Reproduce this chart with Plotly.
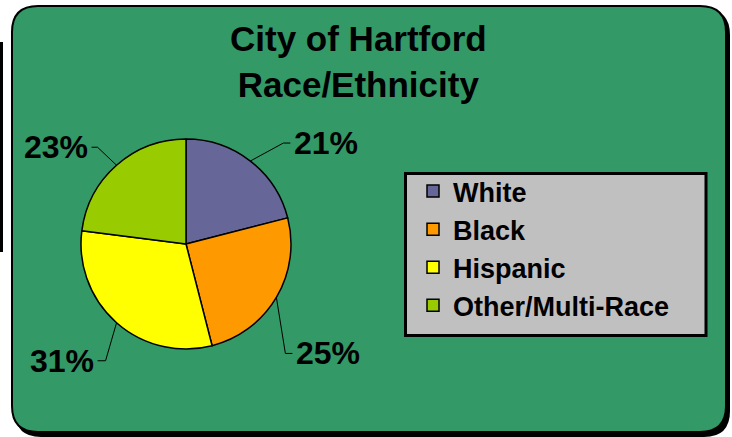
import math
import plotly.graph_objects as go

# ---- data ----
categories = ["White", "Black", "Hispanic", "Other/Multi-Race"]
values = [21, 25, 31, 23]
colors = ["#666699", "#FF9900", "#FFFF00", "#99CC00"]
title_lines = ["City of Hartford", "Race/Ethnicity"]

# ---- layout helpers (pixel -> paper) ----
W, H = 732, 437
def px(x):
    return x / W
def py(y):
    return 1 - y / H

def rrect(x0, y0, x1, y1, r):
    pts = [
        ("M", [(x0 + r, y0)]), ("L", [(x1 - r, y0)]), ("Q", [(x1, y0), (x1, y0 + r)]),
        ("L", [(x1, y1 - r)]), ("Q", [(x1, y1), (x1 - r, y1)]), ("L", [(x0 + r, y1)]),
        ("Q", [(x0, y1), (x0, y1 - r)]), ("L", [(x0, y0 + r)]), ("Q", [(x0, y0), (x0 + r, y0)]),
    ]
    s = ""
    for cmd, ps in pts:
        s += cmd + " " + " ".join(f"{px(a):.5f},{py(b):.5f}" for a, b in ps) + " "
    return s + "Z"

# pie geometry (pixels)
CX, CY, R = 186, 244, 105

fig = go.Figure()
fig.add_trace(go.Pie(
    labels=categories, values=values, sort=False, direction="clockwise", rotation=0,
    marker=dict(colors=colors, line=dict(color="black", width=1.5)),
    textinfo="none", hoverinfo="label+percent",
    domain=dict(x=[px(CX - R), px(CX + R)], y=[py(CY + R), py(CY - R)]),
))

shapes = []
# stray left line
shapes.append(dict(type="line", xref="paper", yref="paper", x0=px(1.5), x1=px(1.5), y0=py(42), y1=py(252),
                   line=dict(color="black", width=3), layer="below"))
# shadow
shapes.append(dict(type="path", xref="paper", yref="paper", path=rrect(15, 9, 730, 437, 26),
                   fillcolor="black", line=dict(color="black", width=0), layer="below"))
# green panel
shapes.append(dict(type="path", xref="paper", yref="paper", path=rrect(12, 6, 726, 432, 26),
                   fillcolor="#339966", line=dict(color="black", width=2), layer="below"))
# legend box
shapes.append(dict(type="rect", xref="paper", yref="paper", x0=px(405.5), x1=px(706), y0=py(335.5), y1=py(173.5),
                   fillcolor="#C0C0C0", line=dict(color="black", width=3), layer="below"))

# leader lines + percent labels
elbow_offsets = [(33, -18), (9, 56), (-11, 38), (-19, -18)]
end_dx = [7, 7, -8, -6]
annotations = []
cum = 0
for v, (ex, ey), dx in zip(values, elbow_offsets, end_dx):
    mid = (cum + v / 2) / sum(values) * 2 * math.pi
    cum += v
    ax = CX + R * math.sin(mid)
    ay = CY - R * math.cos(mid)
    bx, by = ax + ex, ay + ey
    cx2 = bx + dx
    path = f"M {px(ax):.5f},{py(ay):.5f} L {px(bx):.5f},{py(by):.5f} L {px(cx2):.5f},{py(by):.5f}"
    shapes.append(dict(type="path", xref="paper", yref="paper", path=path,
                       line=dict(color="black", width=1)))
    right = dx > 0
    annotations.append(dict(
        xref="paper", yref="paper", x=px(cx2 + (2 if right else -2)), y=py(by),
        xanchor="left" if right else "right", yanchor="middle", showarrow=False,
        text=f"<b>{v}%</b>", font=dict(size=32, color="black", family="Liberation Sans, Arial"),
    ))

# title
annotations.append(dict(
    xref="paper", yref="paper", x=px(358.5), y=py(62), xanchor="center", yanchor="middle",
    showarrow=False, text="<b>" + "<br>".join(title_lines) + "</b>",
    font=dict(size=35, color="black", family="Liberation Sans, Arial"),
))

fig.update_layout(
    width=W, height=H, margin=dict(l=0, r=0, t=0, b=0),
    paper_bgcolor="white", plot_bgcolor="white",
    shapes=shapes, annotations=annotations,
    showlegend=True,
    legend=dict(
        x=px(413), y=py(167), xanchor="left", yanchor="top",
        bgcolor="rgba(0,0,0,0)", borderwidth=0, traceorder="normal",
        font=dict(size=27, color="black", family="Liberation Sans, Arial", weight="bold"),
    ),
)

fig.write_html("out.html", config={"displayModeBar": False},
               post_script="document.body.style.margin='0';document.body.style.padding='0';")
